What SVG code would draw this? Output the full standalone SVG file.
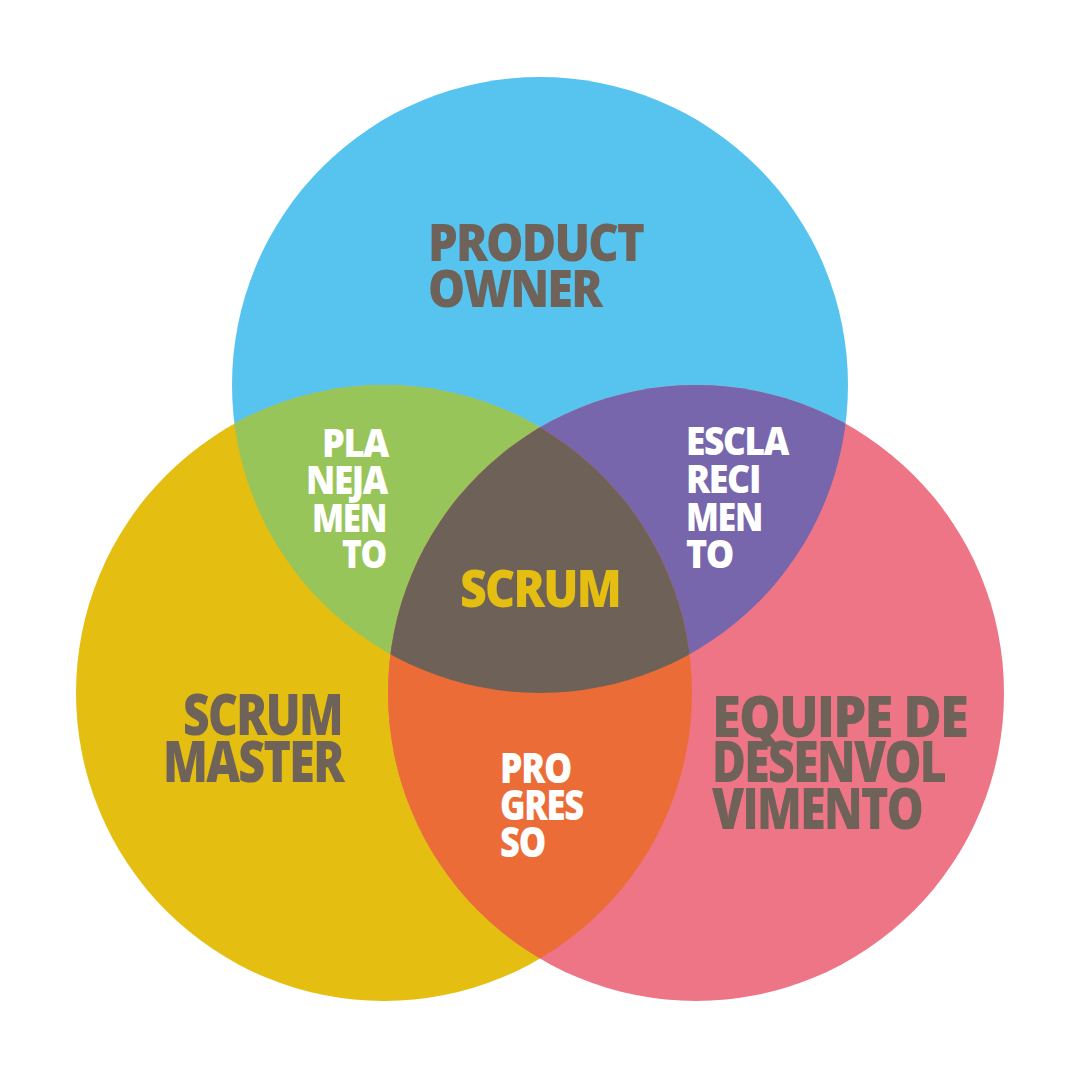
<svg xmlns="http://www.w3.org/2000/svg" width="1080" height="1080" viewBox="0 0 1080 1080">
<style>
.lbl{font-family:"Open Sans","Liberation Sans",sans-serif;font-weight:800;fill:#6E6259;letter-spacing:-2px}
.w{font-family:"Open Sans","Liberation Sans",sans-serif;font-weight:800;fill:#FFFFFF;letter-spacing:-1.5px}
.y{font-family:"Open Sans","Liberation Sans",sans-serif;font-weight:800;fill:#E4BE10;letter-spacing:-2px}
</style>
<defs>
<clipPath id="cBlue"><circle cx="540" cy="385" r="308"/></clipPath>
<clipPath id="cYellow"><circle cx="384" cy="693" r="308"/></clipPath>
<clipPath id="cPink"><circle cx="696" cy="693" r="308"/></clipPath>
</defs>
<rect width="1080" height="1080" fill="#FFFFFF"/>
<g id="circle-product-owner"><circle cx="540" cy="385" r="308" fill="#57C4F0"/></g>
<g id="circle-scrum-master"><circle cx="384" cy="693" r="308" fill="#E4BE10"/></g>
<g id="circle-equipe"><circle cx="696" cy="693" r="308" fill="#EE7585"/></g>
<g id="overlap-planejamento" clip-path="url(#cBlue)"><circle cx="384" cy="693" r="308" fill="#98C55A"/></g>
<g id="overlap-esclarecimento" clip-path="url(#cBlue)"><circle cx="696" cy="693" r="308" fill="#7766AB"/></g>
<g id="overlap-progresso" clip-path="url(#cYellow)"><circle cx="696" cy="693" r="308" fill="#EC6C38"/></g>
<g id="overlap-scrum" clip-path="url(#cBlue)"><g clip-path="url(#cYellow)"><circle cx="696" cy="693" r="308" fill="#6E6157"/></g></g>
<g id="connectors"></g>
<g id="label-product-owner">
<text class="lbl" x="428" y="261" font-size="52" textLength="215" lengthAdjust="spacingAndGlyphs">PRODUCT</text>
<text class="lbl" x="428" y="307" font-size="52" textLength="173" lengthAdjust="spacingAndGlyphs">OWNER</text>
</g>
<g id="label-planejamento" text-anchor="end">
<text class="w" x="388" y="457" font-size="39" textLength="66" lengthAdjust="spacingAndGlyphs">PLA</text>
<text class="w" x="387" y="494" font-size="39" textLength="81" lengthAdjust="spacingAndGlyphs">NEJA</text>
<text class="w" x="386" y="532" font-size="39" textLength="74" lengthAdjust="spacingAndGlyphs">MEN</text>
<text class="w" x="386" y="568" font-size="39" textLength="44" lengthAdjust="spacingAndGlyphs">TO</text>
</g>
<g id="label-esclarecimento">
<text class="w" x="686" y="455" font-size="39" textLength="102" lengthAdjust="spacingAndGlyphs">ESCLA</text>
<text class="w" x="686" y="493" font-size="39" textLength="74" lengthAdjust="spacingAndGlyphs">RECI</text>
<text class="w" x="686" y="531" font-size="39" textLength="76" lengthAdjust="spacingAndGlyphs">MEN</text>
<text class="w" x="686" y="568" font-size="39" textLength="47" lengthAdjust="spacingAndGlyphs">TO</text>
</g>
<g id="label-scrum">
<text class="y" x="460" y="607" font-size="52" textLength="160" lengthAdjust="spacingAndGlyphs">SCRUM</text>
</g>
<g id="label-scrum-master" text-anchor="end">
<text class="lbl" x="342" y="735" font-size="56" textLength="159" lengthAdjust="spacingAndGlyphs">SCRUM</text>
<text class="lbl" x="343" y="782" font-size="56" textLength="180" lengthAdjust="spacingAndGlyphs">MASTER</text>
</g>
<g id="label-equipe">
<text class="lbl" x="712" y="737" font-size="56" textLength="255" lengthAdjust="spacingAndGlyphs">EQUIPE DE</text>
<text class="lbl" x="712" y="782" font-size="56" textLength="233" lengthAdjust="spacingAndGlyphs">DESENVOL</text>
<text class="lbl" x="712" y="829" font-size="56" textLength="210" lengthAdjust="spacingAndGlyphs">VIMENTO</text>
</g>
<g id="label-progresso">
<text class="w" x="500" y="783" font-size="42" textLength="71" lengthAdjust="spacingAndGlyphs">PRO</text>
<text class="w" x="500" y="820" font-size="42" textLength="83" lengthAdjust="spacingAndGlyphs">GRES</text>
<text class="w" x="500" y="857" font-size="42" textLength="45" lengthAdjust="spacingAndGlyphs">SO</text>
</g>
</svg>
